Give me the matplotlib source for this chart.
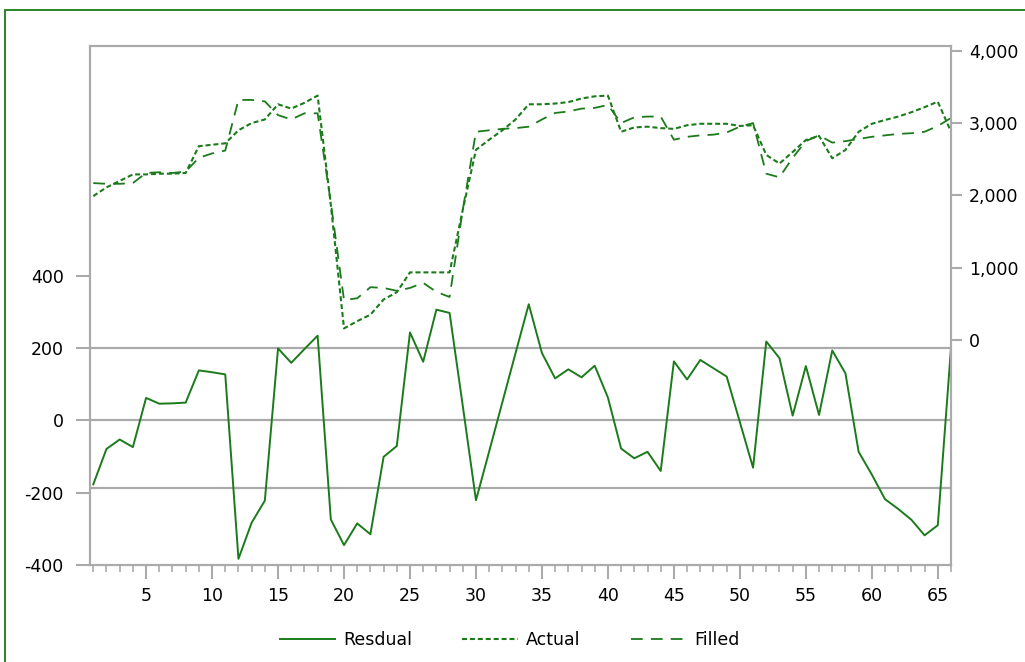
import matplotlib
matplotlib.use("Agg")
import matplotlib.pyplot as plt
from matplotlib.ticker import FuncFormatter, MultipleLocator
from matplotlib.patches import Rectangle

# observation index 1..66
obs = list(range(1, 67))

resdual = [
    -177, -79, -53, -74, 62, 46, 47, 49, 138, 133,
    127, -383, -283, -222, 199, 159, 197, 234, -274, -345,
    -285, -315, -101, -71, 243, 162, 306, 297, 40, -221,
    -86, 50, 186, 321, 186, 116, 141, 119, 151, 63,
    -78, -105, -87, -140, 163, 113, 167, 144, 121, -5,
    -131, 218, 172, 13, 150, 15, 193, 130, -87, -150,
    -218, -245, -275, -318, -290, 200,
]

actual = [
    1990, 2110, 2200, 2290, 2290, 2300, 2300, 2310, 2680, 2700,
    2720, 2900, 3000, 3050, 3260, 3200, 3280, 3380, 1870, 160,
    260, 350, 560, 660, 935, 935, 935, 935, 1800, 2630,
    2770, 2900, 3050, 3260, 3260, 3270, 3290, 3340, 3370, 3380,
    2880, 2940, 2950, 2930, 2920, 2970, 2990, 2990, 2990, 2960,
    2970, 2560, 2440, 2600, 2766, 2822, 2513, 2628, 2880, 2990,
    3043, 3090, 3150, 3220, 3296, 2880,
]

filled = [
    2170, 2160, 2160, 2170, 2310, 2320, 2310, 2330, 2520, 2580,
    2620, 3320, 3320, 3300, 3110, 3050, 3135, 3135, 1900, 553,
    577, 730, 720, 680, 720, 790, 665, 595, 1800, 2880,
    2900, 2920, 2930, 2950, 3050, 3140, 3160, 3200, 3210, 3250,
    3000, 3080, 3090, 3090, 2770, 2810, 2830, 2840, 2870, 2950,
    3000, 2300, 2250, 2520, 2750, 2830, 2730, 2750, 2780, 2810,
    2830, 2850, 2860, 2880, 2960, 3070,
]

# residual band lines (0 and +/- one standard error)
band = [199, 0, -187]

green = "#1b7b1b"
grey = "#aaaaaa"

plt.rcParams["font.family"] = ["DejaVu Sans"]
plt.rcParams["font.size"] = 12.5
plt.rcParams["axes.unicode_minus"] = False

W, H = 1025, 662
fig = plt.figure(figsize=(W / 100, H / 100), dpi=100)

# outer frame
fig.patches.append(Rectangle((5 / W, -0.1), 1.2, (H - 10) / H + 0.1,
                             transform=fig.transFigure, fill=False,
                             edgecolor=green, lw=1.3))

ax = fig.add_axes([90 / W, (H - 565) / H, (951 - 90) / W, (565 - 46) / H])
ax2 = ax.twinx()

for v in band:
    ax.axhline(v, color=grey, lw=1.6, zorder=1)

ax.plot(obs, resdual, color=green, lw=1.4, label="Resdual", zorder=3)
ax2.plot(obs, actual, color=green, lw=1.5, dashes=(2.4, 1.4), label="Actual")
ax2.plot(obs, filled, color=green, lw=1.3, dashes=(6.5, 4.5), label="Filled")

ax.set_xlim(0.75, 66)
ax.set_ylim(-400, 1035)
ax2.set_ylim(-3112, 4066)

ax.set_yticks([-400, -200, 0, 200, 400])
ax2.set_yticks([0, 1000, 2000, 3000, 4000])
ax2.yaxis.set_major_formatter(FuncFormatter(lambda v, p: f"{int(v):,}"))

ax.xaxis.set_major_locator(MultipleLocator(5))
ax.xaxis.set_minor_locator(MultipleLocator(1))

for a in (ax, ax2):
    for s in a.spines.values():
        s.set_color(grey)
        s.set_linewidth(1.5)

ax.tick_params(axis="y", length=10, width=1.5, color=grey, pad=9)
ax2.tick_params(axis="y", length=8, width=1.5, color=grey, pad=5)
ax.tick_params(axis="x", which="major", length=10, width=1.5, color=grey, pad=6)
ax.tick_params(axis="x", which="minor", length=5, width=1.2, color=grey)

h1, l1 = ax.get_legend_handles_labels()
h2, l2 = ax2.get_legend_handles_labels()
fig.legend(h1 + h2, l1 + l2, loc="center", bbox_to_anchor=(0.497, (H - 640) / H),
           ncol=3, frameon=False, handlelength=3.2, handletextpad=0.45,
           columnspacing=2.9)

fig.savefig("out.png", dpi=100)
